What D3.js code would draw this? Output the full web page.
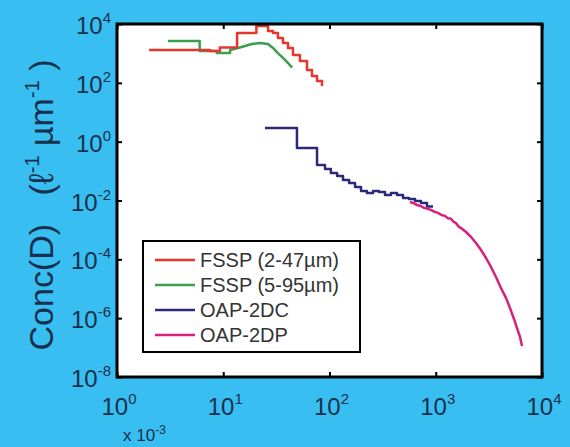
<!DOCTYPE html>
<html>
<head>
<meta charset="utf-8">
<script src="https://cdn.jsdelivr.net/npm/d3@7"></script>
<style>
  body { margin: 0; background: #38bef0; }
  svg { display: block; }
</style>
</head>
<body>
<svg id="chart"></svg>
<script>
'use strict'

// size bins: left edge (µm) and concentration, last entry closes the final bin
const redD = [2, 7.5, 9.3, 13.5, 20.5, 24.7, 26.4, 29.4, 32.7, 36.5, 40.7, 45.3, 52.7, 61.4, 68.4, 76.3, 85]
const redN = [1300, 1210, 1600, 4900, 8500, 8550, 5780, 4940, 3340, 2260, 1530, 883, 552, 273, 171, 116, 78]

const greenD = [3.02, 6.0, 6.0, 8.7, 8.7, 11.6, 11.6, 13.8, 16.0, 18.6, 22.2, 26.4, 29.4, 32.7, 36.5, 40.7, 44.4]
const greenN = [2640, 2640, 1210, 1210, 1030, 1030, 1306, 1530, 1790, 2090, 2240, 2090, 1530, 1030, 700, 472, 330]

const dcD = [24.7, 49.4, 76.3, 90.7, 103, 118, 134, 153, 174, 198, 225, 257, 292, 333, 379, 432, 492, 560, 638, 726, 827, 942]
const dcN = [2.92, 0.61, 0.161, 0.118, 0.086, 0.068, 0.05, 0.039, 0.029, 0.021, 0.018, 0.021, 0.0195, 0.0154, 0.018, 0.0154, 0.0122, 0.0113, 0.0096, 0.0082, 0.0062, 0.0062]

const dpD = [572, 620, 666, 720, 775, 840, 902, 975, 1050, 1130, 1222, 1300, 1392, 1470, 1552, 1640, 1729, 1927, 2147, 2393, 2667, 2972, 3311, 3690, 4111, 4581, 5000, 5450, 5818, 6209, 6486]
const dpN = [0.0089, 0.0081, 0.007, 0.0065, 0.0056, 0.0052, 0.0048, 0.0041, 0.0038, 0.0032, 0.003, 0.0025, 0.0024, 0.0019, 0.0017, 0.0013, 0.00116, 8.5e-4, 5.75e-4, 3.6e-4, 2.08e-4, 1.11e-4, 5.5e-5, 2.5e-5, 1.06e-5, 4.9e-6, 2.2e-6, 9.4e-7, 4.6e-7, 2.3e-7, 1.13e-7]

const seriesNames = ['FSSP (2-47\u00b5m)', 'FSSP (5-95\u00b5m)', 'OAP-2DC', 'OAP-2DP']
const seriesColors = ['#e8352d', '#3a9e4e', '#2c2a78', '#d81f7f']

const xTicks = [1, 10, 100, 1000, 10000]
const xTickExp = ['0', '1', '2', '3', '4']
const yTicks = [1e4, 1e2, 1, 1e-2, 1e-4, 1e-6, 1e-8]
const yTickExp = ['4', '2', '0', '-2', '-4', '-6', '-8']

const width = 570
const height = 447
const margin = { top: 24, right: 28, bottom: 70, left: 117 }
const font = '"Liberation Sans", Arial, sans-serif'

const svg = d3.select('#chart')
  .attr('width', width)
  .attr('height', height)
  .attr('font-family', font)

const x = d3.scaleLog().domain([1, 1e4]).range([margin.left, width - margin.right])
const y = d3.scaleLog().domain([1e-8, 1e4]).range([height - margin.bottom, margin.top])

svg.append('rect')
  .attr('x', x(1)).attr('y', y(1e4))
  .attr('width', x(1e4) - x(1)).attr('height', y(1e-8) - y(1e4))
  .attr('fill', '#fff')

// inward ticks on all four sides
const tickLen = 5
svg.append('g').attr('transform', `translate(0,${y(1e-8)})`)
  .call(d3.axisBottom(x).tickValues(xTicks).tickSize(-tickLen).tickFormat(''))
svg.append('g').attr('transform', `translate(0,${y(1e4)})`)
  .call(d3.axisTop(x).tickValues(xTicks).tickSize(-tickLen).tickFormat(''))
svg.append('g').attr('transform', `translate(${x(1)},0)`)
  .call(d3.axisLeft(y).tickValues(yTicks).tickSize(-tickLen).tickFormat(''))
svg.append('g').attr('transform', `translate(${x(1e4)},0)`)
  .call(d3.axisRight(y).tickValues(yTicks).tickSize(-tickLen).tickFormat(''))
svg.selectAll('.domain').remove()
svg.selectAll('.tick line').attr('stroke', '#000').attr('stroke-width', 2)

const stepLine = d3.line()
  .x(d => x(d[0]))
  .y(d => y(d[1]))
  .curve(d3.curveStepAfter)
const plainLine = d3.line()
  .x(d => x(d[0]))
  .y(d => y(d[1]))

svg.append('clipPath').attr('id', 'clip')
  .append('rect')
  .attr('x', x(1)).attr('y', y(1e4))
  .attr('width', x(1e4) - x(1)).attr('height', y(1e-8) - y(1e4))

const series = [
  { d: greenD, n: greenN, color: seriesColors[1], gen: plainLine },
  { d: redD, n: redN, color: seriesColors[0], gen: stepLine },
  { d: dcD, n: dcN, color: seriesColors[2], gen: stepLine },
  { d: dpD, n: dpN, color: seriesColors[3], gen: plainLine }
]

svg.append('g').attr('clip-path', 'url(#clip)')
  .selectAll('path')
  .data(series)
  .enter().append('path')
  .attr('d', s => s.gen(d3.zip(s.d, s.n)))
  .attr('fill', 'none')
  .attr('stroke', s => s.color)
  .attr('stroke-width', 2.5)
  .attr('stroke-linejoin', 'round')

// frame
svg.append('rect')
  .attr('x', x(1)).attr('y', y(1e4))
  .attr('width', x(1e4) - x(1)).attr('height', y(1e-8) - y(1e4))
  .attr('fill', 'none')
  .attr('stroke', '#000')
  .attr('stroke-width', 3)

// tick labels
const labColor = '#17304d'
const xl = svg.append('g').selectAll('text')
  .data(xTicks)
  .enter().append('text')
  .attr('x', d => x(d) + 2)
  .attr('y', 415)
  .attr('text-anchor', 'middle')
  .attr('fill', labColor)
  .attr('font-size', 24)
xl.append('tspan').text('10')
xl.append('tspan').attr('dy', -11).attr('font-size', 15).text((d, i) => xTickExp[i])

const yl = svg.append('g').selectAll('text')
  .data(yTicks)
  .enter().append('text')
  .attr('x', 111)
  .attr('y', d => y(d) + 10)
  .attr('text-anchor', 'end')
  .attr('fill', labColor)
  .attr('font-size', 24)
yl.append('tspan').text('10')
yl.append('tspan').attr('dy', -11).attr('font-size', 15).text((d, i) => yTickExp[i])

const mult = svg.append('text')
  .attr('x', 123).attr('y', 441)
  .attr('fill', labColor)
  .attr('font-size', 17)
mult.append('tspan').text('x 10')
mult.append('tspan').attr('dy', -7).attr('font-size', 12).text('-3')

// y axis title
const yt = svg.append('text')
  .attr('transform', 'translate(53,205) rotate(-90)')
  .attr('text-anchor', 'middle')
  .attr('fill', labColor)
  .attr('font-size', 34)
yt.append('tspan').text('Conc(D)\u00a0\u00a0\u00a0(\u2113')
yt.append('tspan').attr('dy', -14).attr('font-size', 20).text('-1')
yt.append('tspan').attr('dy', 14).text('\u00a0\u00b5m')
yt.append('tspan').attr('dy', -14).attr('font-size', 20).text('-1')
yt.append('tspan').attr('dy', 14).text('\u00a0)')

// legend
const legend = svg.append('g')
legend.append('rect')
  .attr('x', 143).attr('y', 241)
  .attr('width', 217).attr('height', 111)
  .attr('fill', '#fff')
  .attr('stroke', '#000')
  .attr('stroke-width', 2)

const item = legend.selectAll('g.item')
  .data(seriesNames)
  .enter().append('g')
  .attr('transform', (d, i) => `translate(155,${260 + i * 25})`)
item.append('line')
  .attr('x1', 0).attr('x2', 40)
  .attr('stroke', (d, i) => seriesColors[i])
  .attr('stroke-width', 2.5)
item.append('text')
  .attr('x', 45).attr('y', 7)
  .attr('font-size', 20)
  .attr('fill', '#333')
  .text(d => d)
</script>
</body>
</html>
